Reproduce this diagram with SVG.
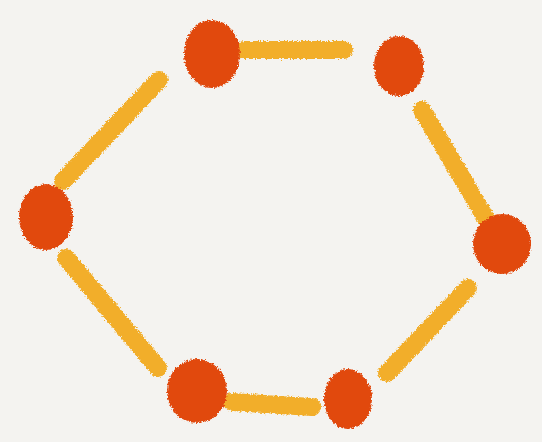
<svg xmlns="http://www.w3.org/2000/svg" width="542" height="442" viewBox="0 0 542 442">
<defs>
<filter id="rough" filterUnits="userSpaceOnUse" x="0" y="0" width="542" height="442">
<feTurbulence type="fractalNoise" baseFrequency="0.6" numOctaves="2" seed="3" result="n"/>
<feDisplacementMap in="SourceGraphic" in2="n" scale="5" xChannelSelector="R" yChannelSelector="G"/>
</filter>
</defs>
<style>
.edge{stroke:#f2ae2a;stroke-width:18;stroke-linecap:round;fill:none;filter:url(#rough)}
.node{fill:#e14a10;filter:url(#rough)}
</style>
<rect width="542" height="442" fill="#f4f3f0"/>
<g id="connectors">
<line class="edge" x1="244" y1="50" x2="344" y2="50"/>
<line class="edge" x1="422" y1="110" x2="485" y2="217"/>
<line class="edge" x1="468" y1="288" x2="387" y2="373"/>
<line class="edge" x1="232" y1="402" x2="312" y2="407"/>
<line class="edge" x1="158" y1="368" x2="66" y2="258"/>
<line class="edge" x1="63" y1="181" x2="159" y2="80"/>
</g>
<g id="n1"><ellipse class="node" cx="212" cy="54" rx="28" ry="34"/></g>
<g id="n2"><ellipse class="node" cx="399" cy="66" rx="25" ry="30"/></g>
<g id="n3"><ellipse class="node" cx="502" cy="244" rx="29" ry="30"/></g>
<g id="n4"><ellipse class="node" cx="348" cy="399" rx="24" ry="30"/></g>
<g id="n5"><ellipse class="node" cx="197" cy="391" rx="30" ry="32"/></g>
<g id="n6"><ellipse class="node" cx="46" cy="217" rx="27" ry="33"/></g>
</svg>
